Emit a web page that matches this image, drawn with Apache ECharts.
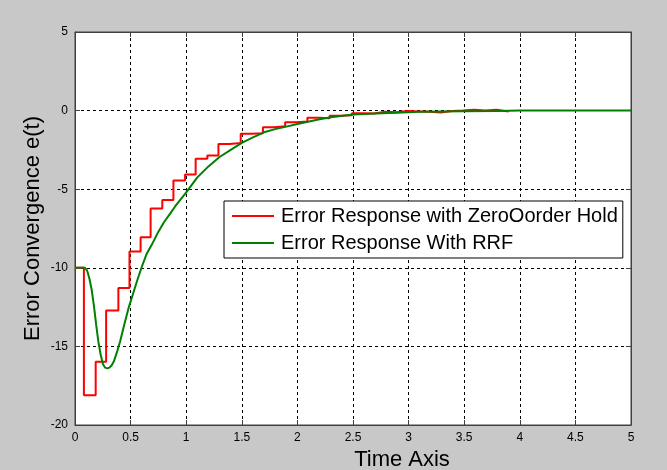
<!DOCTYPE html>
<html>
<head>
<meta charset="utf-8">
<script src="https://cdn.jsdelivr.net/npm/echarts@6/dist/echarts.min.js"></script>
<style>
html,body{margin:0;padding:0;background:#c8c8c8;}
#chart{width:667px;height:470px;}
</style>
</head>
<body>
<div id="chart"></div>
<script>
// Zero-order hold error response: [time at which the held value starts, value]
const zohTimes = [0, 0.08, 0.186, 0.28, 0.39, 0.49, 0.59, 0.68, 0.785, 0.885, 0.99, 1.085, 1.19, 1.29, 1.39, 1.49, 1.59, 1.69, 1.79, 1.89, 1.99, 2.09, 2.19, 2.29, 2.39, 2.49, 2.59, 2.69, 2.79, 2.89, 2.99, 3.09, 3.19, 3.29, 3.39, 3.49, 3.59, 3.69, 3.79, 3.9];
const zohValues = [-10, -18.1, -15.97, -12.72, -11.28, -8.97, -8.06, -6.23, -5.68, -4.45, -4.07, -3.07, -2.86, -2.12, -2.06, -1.48, -1.44, -1.06, -1.0, -0.74, -0.7, -0.45, -0.48, -0.32, -0.3, -0.17, -0.18, -0.08, -0.1, -0.02, -0.05, -0.08, -0.12, -0.03, 0.0, 0.05, 0.0, 0.05, -0.05, -0.05];

// RRF error response
const rrfTimes = [0, 0.09, 0.11, 0.13, 0.15, 0.17, 0.19, 0.21, 0.23, 0.25, 0.27, 0.29, 0.31, 0.33, 0.35, 0.38, 0.405, 0.44, 0.48, 0.52, 0.555, 0.6, 0.645, 0.7, 0.75, 0.8, 0.854, 0.9, 0.95, 0.99, 1.1, 1.2, 1.3, 1.4, 1.5, 1.6, 1.7, 1.8, 1.9, 2.0, 2.2, 2.3, 2.5, 2.7, 2.89, 3.1, 3.49, 3.8, 4.0, 5.0];
const rrfValues = [-10, -10, -10.2, -10.7, -11.4, -12.4, -13.6, -14.7, -15.5, -16.1, -16.35, -16.4, -16.35, -16.2, -15.95, -15.3, -14.7, -13.7, -12.6, -11.7, -10.9, -9.95, -9.1, -8.4, -7.7, -7.1, -6.57, -6.1, -5.65, -5.3, -4.25, -3.55, -2.95, -2.5, -2.05, -1.7, -1.38, -1.18, -1.02, -0.85, -0.55, -0.42, -0.25, -0.18, -0.13, -0.08, -0.04, -0.02, 0, 0];

const xTicks = [0, 0.5, 1, 1.5, 2, 2.5, 3, 3.5, 4, 4.5, 5];
const yTicks = [-20, -15, -10, -5, 0, 5];

const seriesNames = ['Error Response with ZeroOorder Hold', 'Error Response With RRF'];

const zohData = zohTimes.map((t, i) => [t, zohValues[i]]);
const rrfData = rrfTimes.map((t, i) => [t, rrfValues[i]]);

const chart = echarts.init(document.getElementById('chart'), null, {renderer: 'canvas'});
const font = 'Arial, "Liberation Sans", sans-serif';
const gridLine = {show: true, lineStyle: {color: '#000', type: [3, 3], width: 1}};
chart.setOption({
  backgroundColor: '#c8c8c8',
  animation: false,
  grid: {left: 75, right: 36, top: 32, bottom: 45, containLabel: false, outerBoundsMode: 'none', show: true, backgroundColor: '#fff', borderColor: '#404040', borderWidth: 1},
  legend: {
    orient: 'vertical', left: 224, top: 201,
    data: seriesNames.map(n => ({name: n, icon: 'rect'})),
    itemWidth: 42, itemHeight: 2, itemGap: 7,
    padding: [5, 5, 5, 8],
    backgroundColor: '#fff', borderColor: '#000', borderWidth: 1, borderRadius: 0,
    textStyle: {fontFamily: font, fontSize: 20, color: '#000', padding: [0, 0, 0, 2]}
  },
  xAxis: [{
    type: 'value', min: xTicks[0], max: xTicks[xTicks.length - 1], interval: 0.5,
    name: 'Time Axis', nameLocation: 'middle', nameGap: 24,
    nameTextStyle: {fontFamily: font, fontSize: 22, color: '#000', padding: [0, 0, 0, 98]},
    axisLine: {show: true, onZero: false, lineStyle: {color: '#404040'}},
    axisTick: {show: true, inside: true, length: 5, lineStyle: {color: '#404040'}},
    axisLabel: {fontFamily: font, fontSize: 12, color: '#000', margin: 7},
    splitLine: gridLine
  }, {
    type: 'value', position: 'top', min: 0, max: 5, interval: 0.5,
    axisLine: {show: true, onZero: false, lineStyle: {color: '#404040'}},
    axisTick: {show: true, inside: true, length: 5, lineStyle: {color: '#404040'}},
    axisLabel: {show: false}, splitLine: {show: false}
  }],
  yAxis: [{
    type: 'value', min: yTicks[0], max: yTicks[yTicks.length - 1], interval: 5,
    name: 'Error Convergence e(t)', nameLocation: 'middle', nameGap: 31, nameMoveOverlap: false,
    nameTextStyle: {fontFamily: font, fontSize: 22, color: '#000'},
    axisLine: {show: true, onZero: false, lineStyle: {color: '#404040'}},
    axisTick: {show: true, inside: true, length: 5, lineStyle: {color: '#404040'}},
    axisLabel: {fontFamily: font, fontSize: 12, color: '#000', margin: 7},
    splitLine: gridLine
  }, {
    type: 'value', position: 'right', min: -20, max: 5, interval: 5,
    axisLine: {show: true, onZero: false, lineStyle: {color: '#404040'}},
    axisTick: {show: true, inside: true, length: 5, lineStyle: {color: '#404040'}},
    axisLabel: {show: false}, splitLine: {show: false}
  }],
  series: [{
    name: seriesNames[0], type: 'line', step: 'end', data: zohData,
    showSymbol: false, symbol: 'none',
    lineStyle: {color: '#ff0000', width: 2}, itemStyle: {color: '#ff0000'}, z: 2
  }, {
    name: seriesNames[1], type: 'line', data: rrfData, smooth: false,
    showSymbol: false, symbol: 'none',
    lineStyle: {color: '#008000', width: 2}, itemStyle: {color: '#008000'}, z: 3
  }]
});
</script>
</body>
</html>
